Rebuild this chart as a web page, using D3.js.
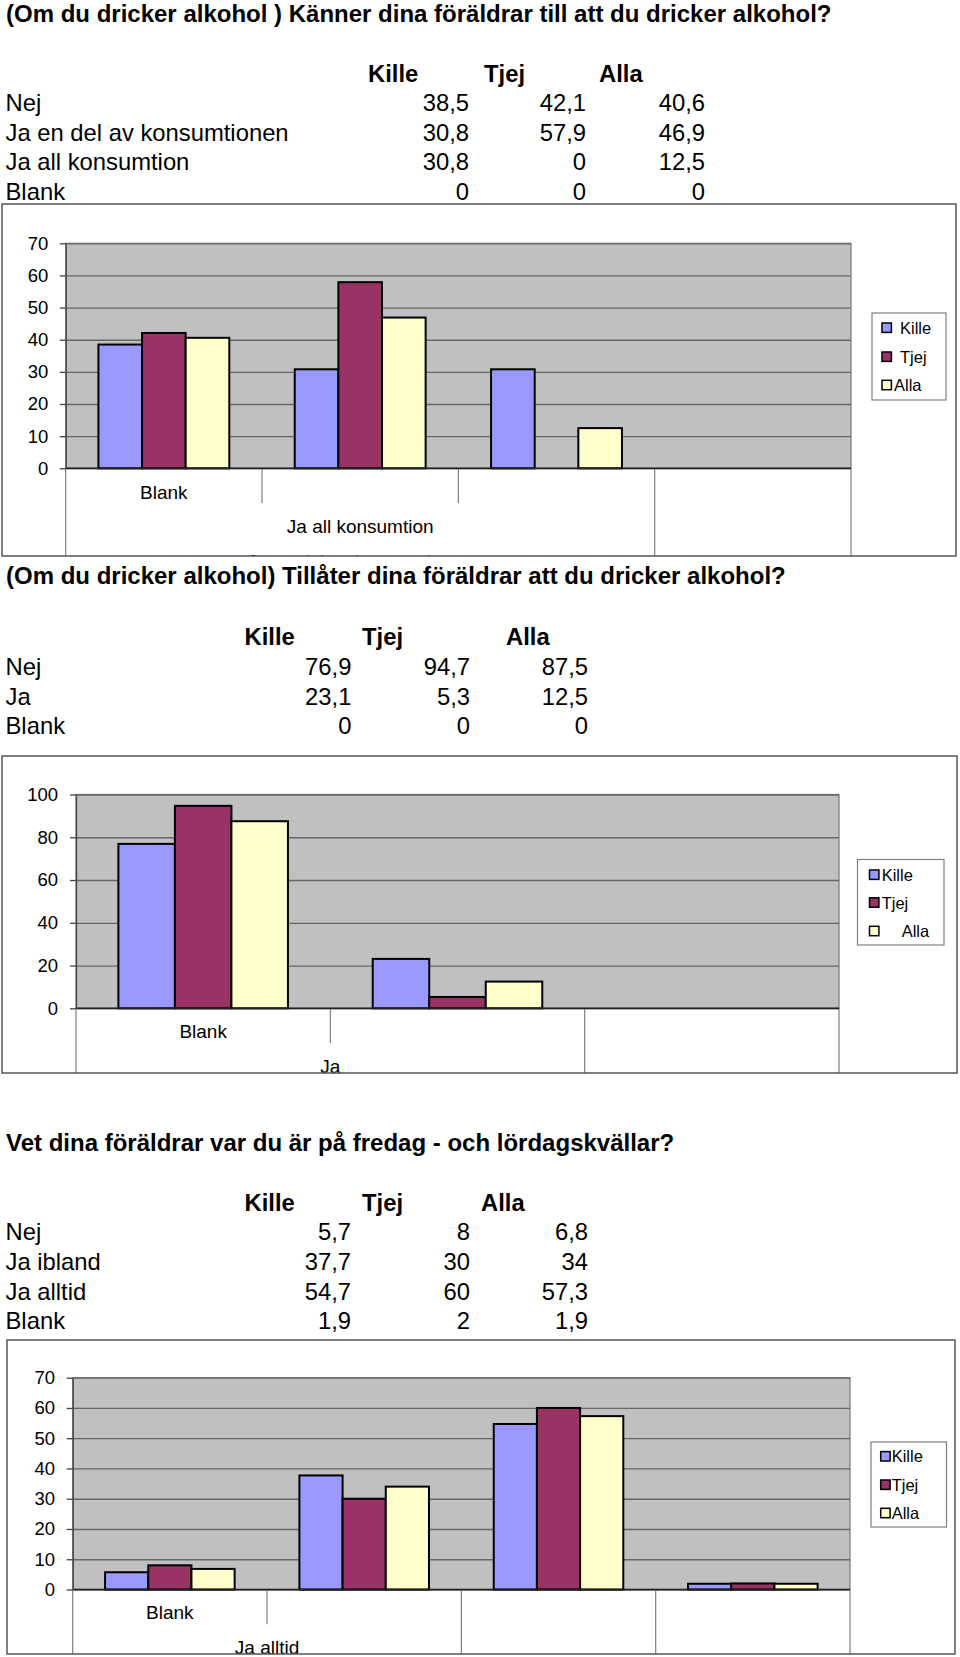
<!DOCTYPE html>
<html>
<head>
<meta charset="utf-8">
<script src="https://cdn.jsdelivr.net/npm/d3@7"></script>
<style>
  html, body { margin: 0; padding: 0; background: #fff; }
  svg { display: block; }
  text { font-family: "Liberation Sans", Arial, Helvetica, sans-serif; fill: #000; }
</style>
</head>
<body>
<div id="chart"></div>
<script>
// ---- data ----
const series = ["Kille", "Tjej", "Alla"];

const q1Title = "(Om du dricker alkohol ) Känner dina föräldrar till att du dricker alkohol?";
const q1Cats = ["Nej", "Ja en del av konsumtionen", "Ja all konsumtion", "Blank"];
const q1Kille = [38.5, 30.8, 30.8, 0];
const q1Tjej = [42.1, 57.9, 0, 0];
const q1Alla = [40.6, 46.9, 12.5, 0];
const q1Ticks = [0, 10, 20, 30, 40, 50, 60, 70];

const q2Title = "(Om du dricker alkohol) Tillåter dina föräldrar att du dricker alkohol?";
const q2Cats = ["Nej", "Ja", "Blank"];
const q2Kille = [76.9, 23.1, 0];
const q2Tjej = [94.7, 5.3, 0];
const q2Alla = [87.5, 12.5, 0];
const q2Ticks = [0, 20, 40, 60, 80, 100];

const q3Title = "Vet dina föräldrar var du är på fredag - och lördagskvällar?";
const q3Cats = ["Nej", "Ja ibland", "Ja alltid", "Blank"];
const q3Kille = [5.7, 37.7, 54.7, 1.9];
const q3Tjej = [8, 30, 60, 2];
const q3Alla = [6.8, 34, 57.3, 1.9];
const q3Ticks = [0, 10, 20, 30, 40, 50, 60, 70];

// ---- styles ----
const colors = { Kille: "#9999ff", Tjej: "#993366", Alla: "#ffffcc" };
const FONT_TITLE = 24, FONT_TABLE = 23.8, FONT_TICK = 18.5, FONT_CAT = 19, FONT_LEG = 16.5;

const W = 960, H = 1657;
const svg = d3.select("#chart").append("svg").attr("width", W).attr("height", H);
svg.append("rect").attr("width", W).attr("height", H).attr("fill", "#fff");

const fmt = v => String(v).replace(".", ",");

// layout for each chart (positions only)
const charts = [
  {
    title: q1Title, cats: q1Cats, vals: [q1Kille, q1Tjej, q1Alla], ticks: q1Ticks,
    titleY: 22,
    table: { headY: 81.5, rowY: 111, step: 29.5, headX: [368, 484, 599], numR: [469, 586, 705] },
    box: { x0: 2, x1: 956, y0: 204, y1: 556 },
    plot: { l: 65.7, r: 851, t: 243.3, b: 468.3 },
    labR: 48.3,
    labelAt: [0.5, 1.5, 1.5, 1.5], labelY: 498.5, shortTicks: 2,
    legend: { x0: 872, x1: 946, y0: 313, y1: 400, swX: 882, rows: [327.7, 356.7, 385], textX: [900, 900, 894] }
  },
  {
    title: q2Title, cats: q2Cats, vals: [q2Kille, q2Tjej, q2Alla], ticks: q2Ticks,
    titleY: 584,
    table: { headY: 645, rowY: 675, step: 29.6, headX: [244.5, 362, 506], numR: [351.4, 470, 588] },
    box: { x0: 2, x1: 957, y0: 756, y1: 1073 },
    plot: { l: 76, r: 839, t: 794.5, b: 1008.3 },
    labR: 58,
    labelAt: [0.5, 1, 1], labelY: 1038, shortTicks: 1,
    legend: { x0: 857.5, x1: 944, y0: 859.5, y1: 945, swX: 869.5, rows: [874.7, 902.5, 931], textX: [881.7, 881.7, 901.7] }
  },
  {
    title: q3Title, cats: q3Cats, vals: [q3Kille, q3Tjej, q3Alla], ticks: q3Ticks,
    titleY: 1151,
    table: { headY: 1210.5, rowY: 1240, step: 29.8, headX: [244.5, 362, 481], numR: [351, 470, 588] },
    box: { x0: 7, x1: 955, y0: 1340, y1: 1654 },
    plot: { l: 72.7, r: 850, t: 1377.7, b: 1589.5 },
    labR: 55,
    labelAt: [0.5, 1, 1, 1], labelY: 1619, shortTicks: 1,
    legend: { x0: 871, x1: 946.5, y0: 1442, y1: 1527, swX: 880.7, rows: [1456.3, 1484.7, 1513], textX: [891.7, 891.7, 891.7] }
  }
];

function drawChart(c, idx) {
  // title
  svg.append("text").attr("x", 6).attr("y", c.titleY)
    .attr("font-size", FONT_TITLE).attr("font-weight", "bold").text(c.title);

  // table
  const t = c.table;
  series.forEach((s, i) => {
    svg.append("text").attr("x", t.headX[i]).attr("y", t.headY)
      .attr("font-size", FONT_TABLE).attr("font-weight", "bold").text(s);
  });
  c.cats.forEach((cat, r) => {
    const y = t.rowY + r * t.step;
    svg.append("text").attr("x", 5.5).attr("y", y).attr("font-size", FONT_TABLE).text(cat);
    c.vals.forEach((arr, i) => {
      svg.append("text").attr("x", t.numR[i]).attr("y", y).attr("text-anchor", "end")
        .attr("font-size", FONT_TABLE).text(fmt(arr[r]));
    });
  });

  // chart box
  const b = c.box, p = c.plot;
  const clipId = "clip" + idx;
  svg.append("clipPath").attr("id", clipId).append("rect")
    .attr("x", b.x0).attr("y", b.y0).attr("width", b.x1 - b.x0).attr("height", b.y1 - b.y0);
  const g = svg.append("g").attr("clip-path", `url(#${clipId})`);

  const y = d3.scaleLinear().domain([0, d3.max(c.ticks)]).range([p.b, p.t]);
  const x = d3.scaleBand().domain(c.cats).range([p.l, p.r]).padding(0);
  const xs = d3.scaleBand().domain(series).range([0, x.bandwidth()]).paddingInner(0).paddingOuter(0.75);

  // plot area
  g.append("rect").attr("x", p.l).attr("y", p.t).attr("width", p.r - p.l).attr("height", p.b - p.t)
    .attr("fill", "#c0c0c0").attr("stroke", "#808080").attr("stroke-width", 1.3);

  // gridlines
  g.append("g").attr("transform", `translate(${p.l},0)`)
    .call(d3.axisLeft(y).tickValues(c.ticks).tickSize(-(p.r - p.l)).tickFormat(""))
    .call(a => a.select(".domain").remove())
    .call(a => a.selectAll("line").attr("stroke", "#666").attr("stroke-width", 1.3));

  // category separators below the axis
  const bounds = c.cats.slice(1).map(d => x(d));
  bounds.forEach((bx, i) => {
    const short = i < c.shortTicks;
    g.append("line").attr("x1", bx).attr("x2", bx).attr("y1", p.b)
      .attr("y2", short ? p.b + 34.7 : b.y1)
      .attr("stroke", "#808080").attr("stroke-width", 1.2);
  });
  [p.l, p.r].forEach(bx => {
    g.append("line").attr("x1", bx).attr("x2", bx).attr("y1", p.b).attr("y2", b.y1)
      .attr("stroke", "#808080").attr("stroke-width", 1.2);
  });

  // bars
  c.cats.forEach((cat, ci) => {
    series.forEach((s, si) => {
      const v = c.vals[si][ci];
      g.append("rect")
        .attr("x", x(cat) + xs(s)).attr("width", xs.bandwidth())
        .attr("y", y(v)).attr("height", y(0) - y(v))
        .attr("fill", colors[s]).attr("stroke", "#000").attr("stroke-width", 2);
    });
  });

  // x axis line
  g.append("line").attr("x1", p.l).attr("x2", p.r).attr("y1", p.b).attr("y2", p.b)
    .attr("stroke", "#222").attr("stroke-width", 1.5);

  // y axis
  const tickLen = 6;
  g.append("g").attr("transform", `translate(${p.l},0)`)
    .call(d3.axisLeft(y).tickValues(c.ticks).tickSize(tickLen).tickSizeOuter(0)
      .tickPadding(p.l - tickLen - c.labR).tickFormat(d3.format("d")))
    .call(a => a.select(".domain").attr("stroke", "#444").attr("stroke-width", 1.3))
    .call(a => a.selectAll("line").attr("stroke", "#444").attr("stroke-width", 1.3))
    .call(a => a.selectAll("text").attr("font-size", FONT_TICK).attr("fill", "#000")
      .attr("font-family", '"Liberation Sans", Arial, sans-serif'));

  // category labels (reversed order, staggered rows)
  const labels = c.cats.slice().reverse();
  labels.forEach((lab, i) => {
    const pos = p.l + c.labelAt[i] * x.step();
    g.append("text").attr("x", pos).attr("y", c.labelY + i * 34.6)
      .attr("text-anchor", "middle").attr("font-size", FONT_CAT).text(lab);
  });

  // legend
  const L = c.legend;
  g.append("rect").attr("x", L.x0).attr("y", L.y0).attr("width", L.x1 - L.x0).attr("height", L.y1 - L.y0)
    .attr("fill", "#fff").attr("stroke", "#808080").attr("stroke-width", 1.2);
  series.forEach((s, i) => {
    g.append("rect").attr("x", L.swX).attr("y", L.rows[i] - 4.7).attr("width", 9.4).attr("height", 9.4)
      .attr("fill", colors[s]).attr("stroke", "#000").attr("stroke-width", 1.5);
    g.append("text").attr("x", L.textX[i]).attr("y", L.rows[i] + 6)
      .attr("font-size", FONT_LEG).text(s);
  });

  // outer border
  svg.append("rect").attr("x", b.x0).attr("y", b.y0).attr("width", b.x1 - b.x0).attr("height", b.y1 - b.y0)
    .attr("fill", "none").attr("stroke", "#555").attr("stroke-width", 1.5);
}

charts.forEach(drawChart);
</script>
</body>
</html>
